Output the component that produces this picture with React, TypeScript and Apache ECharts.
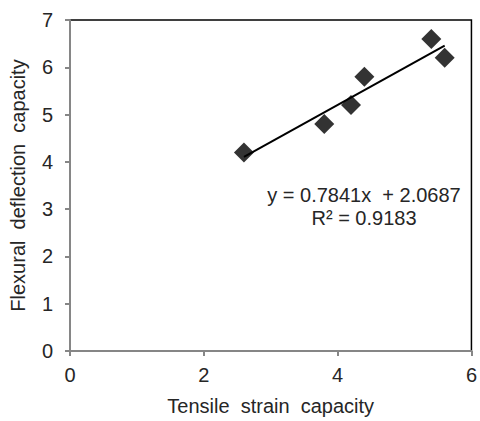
import React, { useEffect, useRef } from "react";
import * as echarts from "echarts";

const strain = [2.6, 3.8, 4.2, 4.4, 5.4, 5.6];
const deflection = [4.2, 4.8, 5.2, 5.8, 6.6, 6.2];
const slope = 0.7841;
const intercept = 2.0687;
const rSquared = 0.9183;

export default function App() {
  const ref = useRef<HTMLDivElement>(null);
  useEffect(() => {
    const chart = echarts.init(ref.current!, null, { renderer: "svg" });
    const points = strain.map((x, i) => [x, deflection[i]]);
    const xMin = Math.min(...strain);
    const xMax = Math.max(...strain);
    const trend = [
      [xMin, slope * xMin + intercept],
      [xMax, slope * xMax + intercept],
    ];
    const font = "'Liberation Sans', Arial, sans-serif";
    const textColor = "#262626";
    chart.setOption({
      animation: false,
      backgroundColor: "#ffffff",
      textStyle: { fontFamily: font },
      grid: {
        left: 69,
        top: 20,
        right: 3,
        bottom: 69,
        show: true,
        borderColor: "#000000",
        borderWidth: 1.5,
      },
      xAxis: {
        type: "value",
        min: 0,
        max: 6,
        interval: 2,
        name: "Tensile  strain  capacity",
        nameLocation: "middle",
        nameGap: 45,
        nameTextStyle: { fontSize: 20, color: textColor, fontFamily: font },
        axisLine: { show: true, onZero: false, lineStyle: { color: "#868686", width: 2 } },
        axisTick: { show: true, length: 5, lineStyle: { color: "#868686", width: 2 } },
        axisLabel: { fontSize: 20, color: textColor, margin: 14, fontFamily: font },
        splitLine: { show: false },
      },
      yAxis: {
        type: "value",
        min: 0,
        max: 7,
        interval: 1,
        name: "Flexural  deflection  capacity",
        nameLocation: "middle",
        nameGap: 42,
        nameTextStyle: { fontSize: 20, color: textColor, fontFamily: font },
        axisLine: { show: true, onZero: false, lineStyle: { color: "#868686", width: 2 } },
        axisTick: { show: true, length: 5, lineStyle: { color: "#868686", width: 2 } },
        axisLabel: { fontSize: 20, color: textColor, margin: 17, fontFamily: font },
        splitLine: { show: false },
      },
      series: [
        {
          type: "line",
          data: trend,
          symbol: "none",
          lineStyle: { color: "#000000", width: 2 },
          z: 2,
        },
        {
          type: "scatter",
          data: points,
          symbol: "diamond",
          symbolSize: 20,
          itemStyle: { color: "#000000" },
          z: 3,
        },
      ],
      graphic: [
        {
          type: "text",
          x: 364,
          y: 195,
          style: {
            text: `y = ${slope}x  + ${intercept}`,
            fontSize: 20,
            fill: textColor,
            fontFamily: font,
            textAlign: "center",
            textVerticalAlign: "middle",
          },
        },
        {
          type: "text",
          x: 364,
          y: 218,
          style: {
            text: `R² = ${rSquared}`,
            fontSize: 20,
            fill: textColor,
            fontFamily: font,
            textAlign: "center",
            textVerticalAlign: "middle",
          },
        },
      ],
    });
    return () => chart.dispose();
  }, []);
  return (
    <div
      ref={ref}
      style={{ position: "fixed", left: 0, top: 0, width: 480, height: 421 }}
    />
  );
}
